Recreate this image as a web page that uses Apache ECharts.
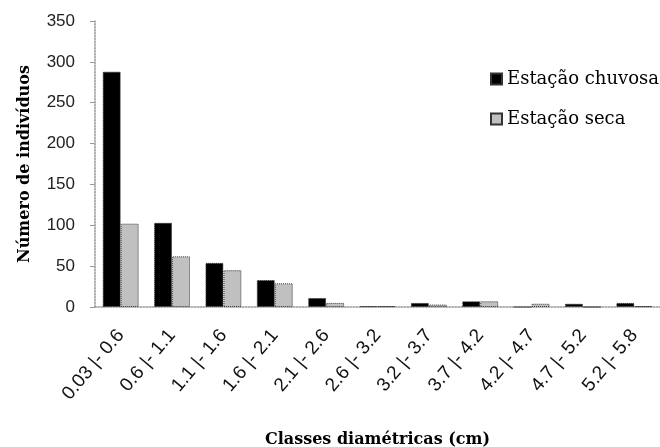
<!DOCTYPE html>
<html>
<head>
<meta charset="utf-8">
<script src="https://cdn.jsdelivr.net/npm/echarts@6/dist/echarts.min.js"></script>
<style>html,body{margin:0;padding:0;background:#fff}#c{width:660px;height:447px}</style>
</head>
<body>
<div id="c"></div>
<script>
const categories = ['0.03 |- 0.6','0.6 |- 1.1','1.1 |- 1.6','1.6 |- 2.1','2.1 |- 2.6','2.6 |- 3.2','3.2 |- 3.7','3.7 |- 4.2','4.2 |- 4.7','4.7 |- 5.2','5.2 |- 5.8'];
const chuvosa = [288, 103, 54, 33, 11, 1, 5, 7, 0, 4, 5];
const seca = [102, 62, 45, 29, 5, 1, 3, 7, 4, 0, 1];
const yTicks = { min: 0, max: 350, interval: 50 };

const chart = echarts.init(document.getElementById('c'));
const serif = '"DejaVu Serif", "Liberation Serif", serif';
const sans = '"Liberation Sans", Arial, sans-serif';
chart.setOption({
  animation: false,
  backgroundColor: '#fff',
  grid: { left: 95, right: 0, top: 21, bottom: 140, containLabel: false, outerBoundsMode: 'none' },
  legend: {
    orient: 'vertical', left: 490, top: 70, itemGap: 22, padding: 0,
    itemWidth: 11, itemHeight: 11, icon: 'rect',
    textStyle: { fontFamily: serif, fontSize: 18, color: '#000' },
    data: ['Estação chuvosa', 'Estação seca']
  },
  xAxis: {
    type: 'category', data: categories,
    name: 'Classes diamétricas (cm)', nameLocation: 'middle', nameGap: 125,
    nameTextStyle: { fontFamily: serif, fontSize: 16, fontWeight: 'bold', color: '#000' },
    axisLine: { lineStyle: { color: '#999', type: 'dotted', width: 1.5 } },
    axisTick: { show: false },
    axisLabel: { rotate: 50, interval: 0, margin: 25, fontFamily: sans, fontSize: 19, color: '#111' }
  },
  yAxis: {
    type: 'value', min: yTicks.min, max: yTicks.max, interval: yTicks.interval,
    name: 'Número de indivíduos', nameLocation: 'middle', nameGap: 62,
    nameTextStyle: { fontFamily: serif, fontSize: 16, fontWeight: 'bold', color: '#000' },
    axisLine: { show: true, lineStyle: { color: '#999', type: 'dotted', width: 1.5 } },
    axisTick: { show: true, length: 5, lineStyle: { color: '#999' } },
    splitLine: { show: false },
    axisLabel: { margin: 20, fontFamily: sans, fontSize: 17, color: '#222' }
  },
  series: [
    { name: 'Estação chuvosa', type: 'bar', data: chuvosa, barGap: '0%', barCategoryGap: '30%',
      itemStyle: { color: '#000', borderColor: '#333', borderWidth: 1, borderType: 'dotted' } },
    { name: 'Estação seca', type: 'bar', data: seca,
      itemStyle: { color: '#c0c0c0', borderColor: '#333', borderWidth: 1, borderType: 'dotted' } }
  ]
});
</script>
</body>
</html>
